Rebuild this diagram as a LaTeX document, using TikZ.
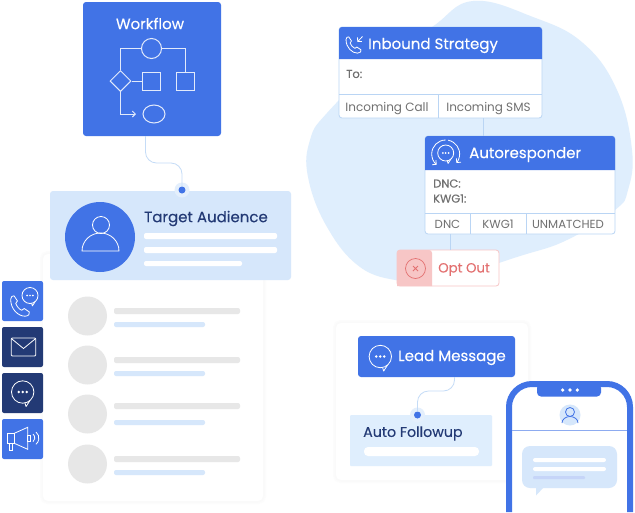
\documentclass[tikz,border=0pt]{standalone}
\usepackage{fontspec}
\setmainfont{Poppins}
\newfontfamily\headfont[FakeBold=.12]{Poppins}
\newfontfamily\labelfont[FakeBold=.25]{Poppins}
\usepackage{tikz}
\usetikzlibrary{positioning,arrows.meta,shapes.geometric}
\definecolor{brand}{HTML}{4173E6}
\definecolor{navy}{HTML}{233A75}
\definecolor{paleblue}{HTML}{D6E7FB}
\definecolor{blobblue}{HTML}{DFEEFD}
\definecolor{wireblue}{HTML}{C5DCF7}
\definecolor{cardline}{HTML}{BAD5F4}
\definecolor{greybar}{HTML}{E7E7E7}
\definecolor{greytext}{HTML}{707070}
\definecolor{redtext}{HTML}{E37070}
\definecolor{redfill}{HTML}{F7C6C6}
\begin{document}
\begin{tikzpicture}[x=1pt,y=-1pt,on grid,>={Straight Barb[length=3pt,width=6pt]}]
    \tikzset{
      box/.style={rectangle,inner sep=0pt,rounded corners=3pt},
      softcard/.style={box,fill=white,rounded corners=5pt,preaction={draw=black!1,line width=6pt},preaction={draw=black!2,line width=3pt}},
      flowcard/.style={box,fill=white,draw=cardline,line width=.8pt},
      iconsq/.style={box,minimum width=41pt,minimum height=40pt,rounded corners=2pt},
      rowdot/.style={circle,fill=greybar,inner sep=0pt,minimum size=39pt},
      greybarline/.style={box,fill=greybar,minimum width=126pt,minimum height=6pt,rounded corners=2pt},
      bluebarline/.style={box,fill=paleblue,minimum width=91pt,minimum height=5pt,rounded corners=2pt},
      whitebarline/.style={box,fill=white,minimum height=6pt,rounded corners=2pt},
      wire/.style={draw=wireblue,line width=.8pt,rounded corners=11pt},
      cardwire/.style={draw=cardline,line width=.8pt},
      halo/.style={circle,fill=paleblue!65,inner sep=0pt,minimum size=15pt},
      pin/.style={circle,fill=brand,inner sep=0pt,minimum size=7pt},
      heading/.style={anchor=west,inner sep=0pt,text=white,font=\headfont\fontsize{15}{17}\selectfont},
      darkheading/.style={heading,text=navy},
      smalltext/.style={anchor=west,inner sep=0pt,text=greytext,font=\labelfont\fontsize{11.5}{13}\selectfont},
      celltext/.style={box,text=greytext,font=\fontsize{12}{14}\selectfont,minimum height=23pt},
      iconline/.style={draw=white,line width=.8pt},
      flowline/.style={draw=white!85!brand,line width=1pt},
      pics/chatbubble/.style={code={
        \draw[iconline] (0,0) circle (10);
        \draw[iconline,line join=round] (2,9.8) -- (3,13) -- (6.5,7.6);
        \fill[white] (-3.6,0) circle (1.2) (0,0) circle (1.2) (3.6,0) circle (1.2);
      }},
      pics/handset/.style={code={
        \draw[iconline,line join=round] (-11,-8) .. controls (-11,4) and (-2,12) .. (6,12)
          .. controls (10,12) and (12,9) .. (11,7) -- (5,3) -- (2,5)
          .. controls (-1,4) and (-4,0) .. (-5,-3) -- (-3,-6) -- (-7,-12)
          .. controls (-9,-12) and (-11,-11) .. (-11,-8);
      }}
    }
    \useasboundingbox (0,0) rectangle (635,512);
    \fill[white] (0,0) rectangle (635,512);

    % blob behind the strategy cards
    \fill[blobblue] plot[smooth cycle,tension=.7] coordinates {(473,1) (533,17) (583,43) (617,90) (632,150) (628,190) (615,210) (567,240) (517,257) (433,283) (400,281) (360,267) (327,227) (308,177) (310,140) (327,113) (380,62) (432,27)};

    % workflow
    \node[box,fill=brand,minimum width=138pt,minimum height=134pt] (workflow) at (152,69) {};
    \node[heading,anchor=center] (workflowtitle) at (150,23.5) {Workflow};
    \node[circle,flowline,draw,minimum size=20pt,inner sep=0pt] (flowcircle) at (151.5,48.5) {};
    \node[box,rounded corners=0pt,flowline,draw,minimum size=18pt] (flowsqa) at (151,81) {};
    \node[box,rounded corners=0pt,flowline,draw,minimum size=18pt] (flowsqb) at (185.5,81) {};
    \node[diamond,flowline,draw,minimum size=21pt,inner sep=0pt] (flowdiamond) at (120.5,81) {};
    \node[ellipse,flowline,draw,minimum width=22pt,minimum height=18pt,inner sep=0pt] (flowoval) at (154,114) {};
    \coordinate (flowtip) at (136,114);
    \draw[flowline] (flowdiamond.north) |- (flowcircle.west);
    \draw[flowline] (flowcircle.east) -| (flowsqb.north);
    \draw[flowline] (flowdiamond.east) -- (flowsqa.west);
    \draw[flowline,->] (flowdiamond.south) |- (flowtip);

    % contact list card
    \node[softcard,minimum width=220pt,minimum height=247pt] (listcard) at (153,377.5) {};
    \node[rowdot] (rowa) at (87.5,316) {};
    \node[rowdot] (rowb) [below = 49pt of rowa] {};
    \node[rowdot] (rowc) [below = 49pt of rowb] {};
    \node[rowdot] (rowd) [below = 50pt of rowc] {};
    \node[greybarline] (rowatop) at (177,311) {};
    \node[bluebarline] (rowalow) at (159.5,324.5) {};
    \node[greybarline] (rowbtop) at (177,360) {};
    \node[bluebarline] (rowblow) at (159.5,373.5) {};
    \node[greybarline] (rowctop) at (177,406) {};
    \node[bluebarline] (rowclow) at (159.5,422.5) {};
    \node[greybarline] (rowdtop) at (177,459) {};
    \node[bluebarline] (rowdlow) at (159.5,472.5) {};

    % target audience
    \coordinate (workflowout) at (145.5,136);
    \node[box,fill=paleblue,minimum width=241pt,minimum height=89pt] (audience) at (170.5,235.5) {};
    \node[halo] (audiencehalo) at (182,190) {};
    \node[pin] (audiencepin) at (182,190) {};
    \draw[wire] (workflowout) -- (145.5,163) -- (182,163) -- (audiencepin);
    \node[circle,fill=brand,inner sep=0pt,minimum size=70pt] (audienceface) at (100,237) {};
    \node[circle,iconline,draw,inner sep=0pt,minimum size=17pt] (audiencehead) at (101,225) {};
    \draw[iconline] (82,251) arc (180:360:18.5 and 18) -- cycle;
    \node[darkheading] (audiencetitle) at (144,218.5) {Target Audience};
    \node[whitebarline,minimum width=133pt] (audiencebara) at (210.5,236) {};
    \node[whitebarline,minimum width=133pt] (audiencebarb) at (210.5,250) {};
    \node[whitebarline,minimum width=98pt,minimum height=5pt] (audiencebarc) at (193,263.5) {};

    % channel icons
    \node[iconsq,fill=brand] (sqcall) at (22.5,301) {};
    \node[iconsq,fill=navy] (sqmail) [below = 46pt of sqcall] {};
    \node[iconsq,fill=navy] (sqchat) [below = 46pt of sqmail] {};
    \node[iconsq,fill=brand] (sqhorn) [below = 46pt of sqchat] {};
    \pic[scale=.85] at (20,306) {handset};
    \pic[scale=.8] at (30,295.5) {chatbubble};
    \draw[iconline,rounded corners=1pt] (11.3,338) rectangle (35.7,356);
    \draw[iconline] (11.3,338.5) -- (23.5,348.5) -- (35.7,338.5);
    \pic[scale=1.12] at (22.7,392) {chatbubble};
    \draw[iconline] (7.3,433.3) rectangle (14.3,443.3);
    \draw[iconline] (9.3,443.3) rectangle (12.7,450.7);
    \draw[iconline] (14.3,433.3) -- (27.7,427.3) -- (27.7,449.3) -- (14.3,443.3);
    \draw[iconline] (27.7,435) rectangle (30.7,441.7);
    \draw[iconline] (33,434) arc (-50:50:5);
    \draw[iconline] (36,432) arc (-50:50:8);

    % inbound strategy
    \node[flowcard,minimum width=203pt,minimum height=91pt] (inbound) at (440.5,72.5) {};
    \fill[brand] (339,59) [rounded corners=3pt] -- (339,27) -- (542,27) [sharp corners] -- (542,59) -- cycle;
    \pic[scale=.68] at (353.5,45) {handset};
    \draw[iconline,->] (362.5,36.5) -- (357.3,42);
    \node[heading] (inboundtitle) at (368,45.5) {Inbound Strategy};
    \node[smalltext] (inboundto) at (346,74) {To:};
    \draw[cardwire] (339,94.5) -- (542,94.5);
    \node[celltext,minimum width=99.5pt] (incomingcall) at (387,108.5) {Incoming Call};
    \node[celltext,minimum width=103.5pt] (incomingsms) at (488.5,108.5) {Incoming SMS};
    \draw[cardwire] (438.5,94.5) -- (438.5,118);
    \coordinate (smsout) at (483.3,118);

    % autoresponder
    \node[flowcard,minimum width=190pt,minimum height=98pt] (autoresponder) at (520,185) {};
    \draw[cardwire] (smsout) -- (smsout |- autoresponder.north);
    \fill[brand] (425,170) [rounded corners=3pt] -- (425,136) -- (615,136) [sharp corners] -- (615,170) -- cycle;
    \pic[scale=.8] at (445.7,153) {chatbubble};
    \draw[iconline,->] (445.7,140) arc (270:130:14);
    \draw[iconline,->] (448.1,140.2) arc (280:400:14);
    \node[heading] (autorespondertitle) at (469,154.5) {Autoresponder};
    \node[smalltext] (autodnc) at (433,183.5) {DNC:};
    \node[smalltext] (autokwg) at (433,198.5) {KWG1:};
    \draw[cardwire] (425,213.5) -- (615,213.5);
    \node[celltext,minimum width=45.5pt,minimum height=21pt,font=\fontsize{11.7}{14}\selectfont] (celldnc) at (447.5,224.5) {DNC};
    \node[celltext,minimum width=56pt,minimum height=21pt,font=\fontsize{11.7}{14}\selectfont] (cellkwg) at (498,224.5) {KWG1};
    \node[celltext,minimum width=89pt,minimum height=21pt,font=\fontsize{11.7}{14}\selectfont] (cellunmatched) at (568,224.5) {UNMATCHED};
    \draw[cardwire] (470.5,213.5) -- (470.5,234);
    \draw[cardwire] (526.5,213.5) -- (526.5,234);
    \coordinate (dncout) at (450,234);

    % opt out
    \node[box,fill=white,draw=redfill,line width=.8pt,minimum width=102pt,minimum height=36pt] (optout) at (448,268) {};
    \draw[cardwire] (dncout) -- (dncout |- optout.north);
    \fill[redfill] (432,286) -- (397,286) [rounded corners=3pt] -- (397,250) -- (432,250) [sharp corners] -- cycle;
    \node[circle,draw=redtext,line width=.7pt,inner sep=0pt,minimum size=20pt] (optoutring) at (415.5,268.5) {};
    \draw[redtext,line width=1pt] (413,266) -- (418,271) (418,266) -- (413,271);
    \node[heading,text=redtext,font=\headfont\fontsize{13.3}{15}\selectfont] (optouttext) at (438,269.5) {Opt Out};

    % lead message card
    \node[softcard,minimum width=192pt,minimum height=157pt] (leadcard) at (432,401.5) {};
    \node[box,fill=brand,minimum width=157pt,minimum height=41pt] (leadmessage) at (436.5,356.5) {};
    \pic[scale=1.12] at (380.3,356.5) {chatbubble};
    \node[heading] (leadtitle) at (398,357.5) {Lead Message};
    \coordinate (leadout) at (454.5,377);
    \node[box,fill=blobblue,rounded corners=1pt,minimum width=142pt,minimum height=51pt] (followup) at (421,440.5) {};
    \node[halo] (followuphalo) at (417.5,415) {};
    \node[pin] (followuppin) at (417.5,415) {};
    \draw[wire] (leadout) -- (454.5,391) -- (417.5,391) -- (followuppin);
    \node[darkheading,font=\headfont\fontsize{14.2}{16}\selectfont] (followuptitle) at (363,433.5) {Auto Followup};
    \node[whitebarline,minimum width=115pt,minimum height=9pt,rounded corners=4pt] (followupbar) at (421.5,451.5) {};

    % mobile phone
    \filldraw[fill=white,draw=brand,line width=6pt,rounded corners=23pt] (509,512) -- (509,384) -- (630,384) -- (630,512);
    \fill[brand,rounded corners=4pt] (537,384) -- (537,396.5) -- (601,396.5) -- (601,384) -- cycle;
    \fill[white] (562.7,390) circle (1.8) (570,390) circle (1.8) (577.3,390) circle (1.8);
    \node[circle,fill=paleblue,inner sep=0pt,minimum size=21pt] (phoneface) at (570,415) {};
    \node[circle,draw=brand,line width=.8pt,inner sep=0pt,minimum size=9pt] (phonehead) at (570,412) {};
    \draw[brand,line width=.8pt] (562,423) arc (180:360:8 and 6.5);
    \draw[draw=brand!60!white,line width=.8pt] (512,430.5) -- (627,430.5);
    \node[box,fill=paleblue,rounded corners=8pt,minimum width=95pt,minimum height=42pt] (chatbox) at (569.5,467) {};
    \fill[paleblue] (536,487) -- (536,495.5) -- (544,487) -- cycle;
    \node[whitebarline,minimum width=73pt,minimum height=4pt] (chatbara) at (569.5,460) {};
    \node[whitebarline,minimum width=73pt,minimum height=4pt] (chatbarb) at (569.5,469) {};
    \node[box,fill=brand!30!white,rounded corners=1pt,minimum width=52pt,minimum height=3pt] (chatbarc) at (559,477.5) {};
\end{tikzpicture}
\end{document}
